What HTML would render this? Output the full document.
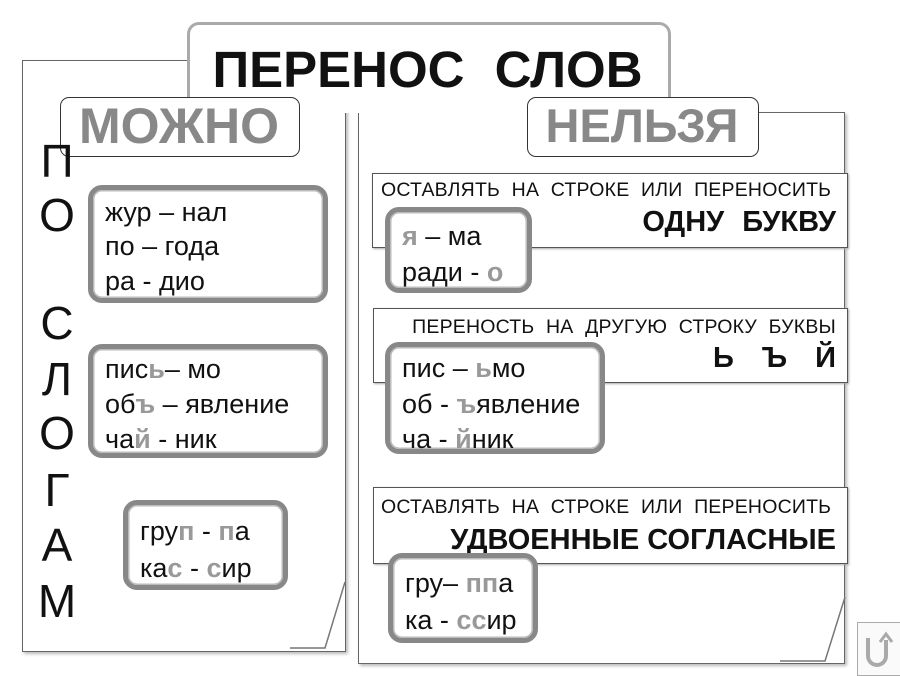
<!DOCTYPE html>
<html><head><meta charset="utf-8"><style>
body{margin:0;width:900px;height:675px;background:#fff;position:relative;overflow:hidden;font-family:"Liberation Sans","DejaVu Sans",sans-serif;color:#111}
div,span.a{position:absolute}
.paper{background:#fff;border:1.5px solid #666;box-shadow:2px 2px 3px #bbb}
.rb{border:5px solid #888;border-radius:14px;background:#fff;box-shadow:inset 0 0 0 1.5px #bbb}
.ln{position:absolute;left:12px;font-size:27px;white-space:nowrap;line-height:1}
.g{color:#999;font-weight:bold}
.rule{border:1.5px solid #555;background:#fff;box-shadow:1px 1px 2px #aaa}
.small{font-size:19.5px;white-space:nowrap;letter-spacing:0.2px;word-spacing:6px}
.vl{position:absolute;left:37px;font-size:46px;width:40px;text-align:center;line-height:1}
</style></head><body>
<div class="paper" style="left:22px;top:60px;width:322px;height:590px"></div>
<svg style="position:absolute;left:290px;top:580px" width="60" height="72"><path d="M55 2 L35 68 L0 68" fill="#fff" stroke="#777" stroke-width="1.5"/></svg>
<div class="paper" style="left:358px;top:112px;width:485px;height:550px"></div>
<svg style="position:absolute;left:780px;top:595px" width="70" height="70"><path d="M65 2 L45 66 L0 66" fill="#fff" stroke="#777" stroke-width="1.5"/></svg>
<div style="left:187px;top:22px;width:478px;height:88px;border:3px solid #aaa;border-bottom:none;border-radius:12px 12px 0 0;background:#fff"></div>
<div style="left:187px;top:40px;width:481px;text-align:center;font-size:51px;font-weight:bold;word-spacing:16px;line-height:60px">ПЕРЕНОС СЛОВ</div>
<div style="left:60px;top:97px;width:238px;height:58px;border:1.5px solid #333;border-radius:9px;background:#fff"></div>
<div style="left:60px;top:98px;width:238px;text-align:center;font-size:50px;font-weight:bold;color:#888;line-height:56px">МОЖНО</div>
<div style="left:527px;top:97px;width:230px;height:58px;border:1.5px solid #333;border-radius:9px;background:#fff"></div>
<div style="left:527px;top:99px;width:230px;text-align:center;font-size:47px;font-weight:bold;color:#888;line-height:54px">НЕЛЬЗЯ</div>

<div class="vl" style="top:138px">П</div>
<div class="vl" style="top:192px">О</div>
<div class="vl" style="top:300px">С</div>
<div class="vl" style="top:356px">Л</div>
<div class="vl" style="top:410px">О</div>
<div class="vl" style="top:467px">Г</div>
<div class="vl" style="top:522px">А</div>
<div class="vl" style="top:578px">М</div>

<div class="rb" style="left:88px;top:185px;width:230px;height:108px">
<span class="ln" style="top:9px">жур – нал</span>
<span class="ln" style="top:43px">по – года</span>
<span class="ln" style="top:78px">ра - дио</span></div>
<div class="rb" style="left:88px;top:344px;width:230px;height:104px">
<span class="ln" style="top:7px">пис<span class="g">ь</span>– мо</span>
<span class="ln" style="top:42px">об<span class="g">ъ</span> – явление</span>
<span class="ln" style="top:77px">ча<span class="g">й</span> - ник</span></div>
<div class="rb" style="left:123px;top:500px;width:155px;height:80px">
<span class="ln" style="top:13px">гру<span class="g">п</span> - <span class="g">п</span>а</span>
<span class="ln" style="top:50px">ка<span class="g">с</span> - <span class="g">с</span>ир</span></div>

<div class="rule" style="left:372px;top:173px;width:474px;height:73px"></div>
<div class="small" style="left:381px;top:179px">ОСТАВЛЯТЬ НА СТРОКЕ ИЛИ ПЕРЕНОСИТЬ</div>
<div style="left:540px;top:206px;width:296px;text-align:right;font-size:29px;font-weight:bold;word-spacing:10px">ОДНУ БУКВУ</div>
<div class="rb" style="left:385px;top:207px;width:137px;height:76px">
<span class="ln" style="top:11px"><span class="g">я</span> – ма</span>
<span class="ln" style="top:47px">ради - <span class="g">о</span></span></div>

<div class="rule" style="left:373px;top:308px;width:473px;height:73px"></div>
<div class="small" style="left:380px;top:316px;width:456px;text-align:right">ПЕРЕНОСТЬ НА ДРУГУЮ СТРОКУ БУКВЫ</div>
<div style="left:600px;top:342px;width:236px;text-align:right;font-size:29px;font-weight:bold;word-spacing:20px">Ь Ъ Й</div>
<div class="rb" style="left:385px;top:342px;width:210px;height:102px">
<span class="ln" style="top:8px">пис – <span class="g">ь</span>мо</span>
<span class="ln" style="top:44px">об - <span class="g">ъ</span>явление</span>
<span class="ln" style="top:79px">ча - <span class="g">й</span>ник</span></div>

<div class="rule" style="left:373px;top:487px;width:473px;height:75px"></div>
<div class="small" style="left:381px;top:496px">ОСТАВЛЯТЬ НА СТРОКЕ ИЛИ ПЕРЕНОСИТЬ</div>
<div style="left:380px;top:524px;width:456px;text-align:right;font-size:29px;font-weight:bold">УДВОЕННЫЕ СОГЛАСНЫЕ</div>
<div class="rb" style="left:388px;top:553px;width:140px;height:80px">
<span class="ln" style="top:12px">гру– <span class="g">пп</span>а</span>
<span class="ln" style="top:49px">ка - <span class="g">сс</span>ир</span></div>

<div style="left:857px;top:622px;width:42px;height:52px;border:1.5px solid #aaa;background:#fafafa"></div>
<svg style="position:absolute;left:862px;top:630px" width="32" height="38"><path d="M6 8 V26 a9 9 0 0 0 18 0 V10" fill="none" stroke="#aaa" stroke-width="4"/><path d="M18 12 L24 4 L30 12" fill="none" stroke="#aaa" stroke-width="3"/></svg>
</body></html>
